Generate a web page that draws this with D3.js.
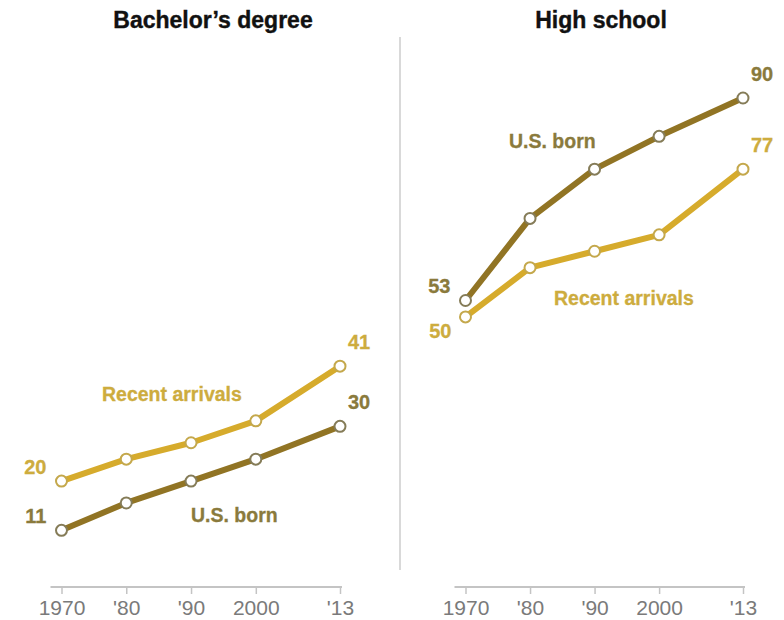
<!DOCTYPE html>
<html>
<head>
<meta charset="utf-8">
<script src="https://cdn.jsdelivr.net/npm/d3@7"></script>
<style>
  body { margin: 0; background: #fff; }
  svg { display: block; }
</style>
</head>
<body>
<svg id="chart" width="784" height="620"></svg>
<script>
// ---- data ----
const years = [1970, 1980, 1990, 2000, 2013];
const tickLabels = ["1970", "'80", "'90", "2000", "'13"];
const panelTitles = ["Bachelor\u2019s degree", "High school"];
const seriesNames = ["U.S. born", "Recent arrivals"];
const bachelorUSBorn = [11, 16, 20, 24, 30];
const bachelorRecent = [20, 24, 27, 31, 41];
const highSchoolUSBorn = [53, 68, 77, 83, 90];
const highSchoolRecent = [50, 59, 62, 65, 77];

// ---- styles ----
const colors = {
  usLine: "#917424", usMarker: "#857c58", usText: "#8a7a3c",
  raLine: "#d6ab2c", raMarker: "#c4a84c", raText: "#cdac3e"
};
const FONT = "'Liberation Sans', Arial, sans-serif";

const svg = d3.select("#chart");
const y = d3.scaleLinear().domain([0, 100]).range([590.5, 43.3]);

const panels = [
  {
    title: panelTitles[0], titleX: 213, range: [61.5, 340],
    series: [
      { name: seriesNames[1], values: bachelorRecent, line: colors.raLine, marker: colors.raMarker, text: colors.raText,
        nameX: 102, nameY: 401, firstPos: "left" },
      { name: seriesNames[0], values: bachelorUSBorn, line: colors.usLine, marker: colors.usMarker, text: colors.usText,
        nameX: 191, nameY: 522, firstPos: "left" }
    ]
  },
  {
    title: panelTitles[1], titleX: 601, range: [465.5, 743],
    series: [
      { name: seriesNames[1], values: highSchoolRecent, line: colors.raLine, marker: colors.raMarker, text: colors.raText,
        nameX: 554, nameY: 305, firstPos: "below" },
      { name: seriesNames[0], values: highSchoolUSBorn, line: colors.usLine, marker: colors.usMarker, text: colors.usText,
        nameX: 509, nameY: 148, firstPos: "left" }
    ]
  }
];

// divider
svg.append("line")
  .attr("x1", 400).attr("x2", 400).attr("y1", 37).attr("y2", 570)
  .attr("stroke", "#d9d9d9").attr("stroke-width", 2);

panels.forEach(p => {
  const x = d3.scaleLinear().domain([1970, 2013]).range(p.range);
  const g = svg.append("g");

  // title
  g.append("text")
    .attr("x", p.titleX).attr("y", 28)
    .attr("text-anchor", "middle")
    .attr("font-family", FONT)
    .attr("font-weight", "bold")
    .attr("font-size", 23)
    .attr("fill", "#111")
    .attr("stroke", "#111").attr("stroke-width", 0.4)
    .text(p.title);

  // axis
  const axisY = 587;
  g.append("line")
    .attr("x1", x.range()[0] - 11).attr("x2", x.range()[1] + 2)
    .attr("y1", axisY).attr("y2", axisY)
    .attr("stroke", "#c4c4c4").attr("stroke-width", 2);
  const axis = d3.axisBottom(x)
    .tickValues(years)
    .tickFormat((d, i) => tickLabels[i])
    .tickSizeInner(7).tickSizeOuter(0).tickPadding(6);
  const ag = g.append("g").attr("transform", `translate(0,${axisY})`).call(axis);
  ag.select(".domain").remove();
  ag.selectAll(".tick line").attr("stroke", "#c4c4c4").attr("stroke-width", 1.5);
  ag.selectAll(".tick text")
    .attr("font-family", FONT)
    .attr("font-size", 21)
    .attr("fill", "#7a7a7a");

  const line = d3.line().x((d, i) => x(years[i])).y(d => y(d));

  p.series.forEach(s => {
    g.append("path")
      .datum(s.values)
      .attr("d", line)
      .attr("fill", "none")
      .attr("stroke", s.line)
      .attr("stroke-width", 6)
      .attr("stroke-linejoin", "round");

    g.selectAll(null)
      .data(s.values)
      .enter().append("circle")
      .attr("cx", (d, i) => x(years[i]))
      .attr("cy", d => y(d))
      .attr("r", 5.5)
      .attr("fill", "#fff")
      .attr("stroke", s.marker)
      .attr("stroke-width", 2);

    // series name
    g.append("text")
      .attr("x", s.nameX).attr("y", s.nameY)
      .attr("font-family", FONT)
      .attr("font-weight", "bold")
      .attr("font-size", 19.5)
      .attr("fill", s.text)
      .attr("stroke", s.text).attr("stroke-width", 0.3)
      .text(s.name);

    // first value label
    const v0 = s.values[0];
    const fl = g.append("text")
      .attr("font-family", FONT)
      .attr("font-weight", "bold")
      .attr("font-size", 20)
      .attr("fill", s.text)
      .attr("stroke", s.text).attr("stroke-width", 0.3)
      .attr("text-anchor", "end")
      .text(v0);
    if (s.firstPos === "left") {
      fl.attr("x", x(years[0]) - 15).attr("y", y(v0) - 7);
    } else {
      fl.attr("x", x(years[0]) - 14).attr("y", y(v0) + 21);
    }

    // last value label
    const vl = s.values[s.values.length - 1];
    g.append("text")
      .attr("x", x(years[years.length - 1]) + 19)
      .attr("y", y(vl) - 17)
      .attr("text-anchor", "middle")
      .attr("font-family", FONT)
      .attr("font-weight", "bold")
      .attr("font-size", 20)
      .attr("fill", s.text)
      .attr("stroke", s.text).attr("stroke-width", 0.3)
      .text(vl);
  });
});
</script>
</body>
</html>
